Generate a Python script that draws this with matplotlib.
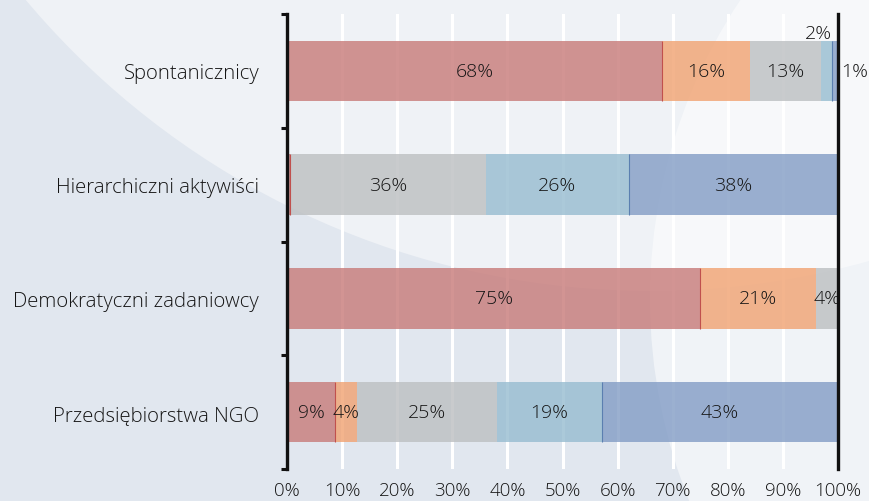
import numpy as np
import matplotlib
matplotlib.use("Agg")
import matplotlib.pyplot as plt
from matplotlib.patches import Circle

plt.rcParams['font.family'] = ['Open Sans', 'DejaVu Sans']

# dane: udział typów w każdej grupie (%)
groups = ["Spontanicznicy", "Hierarchiczni aktywiści",
          "Demokratyczni zadaniowcy", "Przedsiębiorstwa NGO"]
seg_red = [68.0, 0.5, 75.0, 8.7]
seg_orange = [16.0, 0.0, 21.0, 4.0]
seg_gray = [13.0, 35.6, 4.0, 25.4]
seg_lblue = [2.0, 25.9, 0.0, 19.1]
seg_dblue = [1.0, 38.0, 0.0, 42.8]
xticks = [0, 10, 20, 30, 40, 50, 60, 70, 80, 90, 100]

series = [seg_red, seg_orange, seg_gray, seg_lblue, seg_dblue]
colors = ['#c77a78', '#f1a271', '#bcbfc1', '#96bcd0', '#829cc5']
txt = '#151515'
fw = 'light'
fs_val = 14

W, H = 870, 502
fig = plt.figure(figsize=(W / 100, H / 100), dpi=100, facecolor='#e1e7ef')

# tło: dwa duże koła
def px_circle(cx, cy, r, **kw):
    c = Circle((cx / 100, (H - cy) / 100), r / 100,
               transform=fig.dpi_scale_trans, zorder=-10, **kw)
    fig.add_artist(c)

px_circle(650, -523, 815, facecolor='#eff2f6', edgecolor='none')
px_circle(1190, 300, 540, facecolor='white', alpha=0.5, edgecolor='none')

ax = fig.add_axes([287 / W, 1 - 470 / H, (838 - 287) / W, (470 - 15) / H])
ax.set_facecolor('none')

y = np.arange(len(groups))
bar_h = 0.53
left = np.zeros(len(groups))
for vals, col in zip(series, colors):
    vals = np.array(vals)
    ax.barh(y, vals, left=left, height=bar_h, color=col, alpha=0.8,
            edgecolor='none', zorder=2)
    left += vals

# cienkie krawędzie między segmentami
red_end = np.array(seg_red)
ax.vlines(red_end, y - bar_h / 2, y + bar_h / 2, color='#c0504d', lw=0.8, zorder=3)
db_start = 100 - np.array(seg_dblue)
mask = np.array(seg_dblue) > 0
ax.vlines(db_start[mask], y[mask] - bar_h / 2, y[mask] + bar_h / 2,
          color='#5b7fb0', lw=0.8, zorder=3)

# etykiety wartości
left = np.zeros(len(groups))
for k, vals in enumerate(series):
    for i, v in enumerate(vals):
        if v >= 3:
            ax.text(left[i] + v / 2, y[i], f"{v:.0f}%", ha='center', va='center',
                    fontsize=fs_val, color=txt, fontweight=fw, zorder=4)
        elif v >= 1.0:
            if k == 3:
                ax.text(left[i] + v, y[i] - bar_h / 2 + 0.01, f"{v:.0f}%",
                        ha='right', va='bottom', fontsize=fs_val, color=txt,
                        fontweight=fw, zorder=4, clip_on=False)
            else:
                ax.text(left[i] + v + 0.6, y[i], f"{v:.0f}%", ha='left',
                        va='center', fontsize=fs_val, color=txt,
                        fontweight=fw, zorder=4, clip_on=False)
    left += np.array(vals)

ax.set_xlim(0, 100)
ax.set_ylim(len(groups) - 0.5, -0.5)
ax.set_xticks(xticks)
ax.set_xticklabels([f"{t}%" for t in xticks])
ax.set_yticks(y)
ax.set_yticklabels(groups)
ax.set_yticks(np.arange(len(groups) + 1) - 0.5, minor=True)

ax.grid(axis='x', color='white', lw=2.2, zorder=1)
ax.set_axisbelow(True)

ax.tick_params(axis='x', length=0, pad=9, labelsize=13.5, labelcolor=txt)
ax.tick_params(axis='y', which='major', length=0, pad=20, labelsize=14.7,
               labelcolor=txt)
ax.tick_params(axis='y', which='minor', direction='out', length=4, width=2.2,
               color='#111111')
for lab in ax.get_xticklabels() + ax.get_yticklabels():
    lab.set_fontweight(fw)

for s in ['top', 'bottom']:
    ax.spines[s].set_visible(False)
for s in ['left', 'right']:
    ax.spines[s].set_linewidth(2.4)
    ax.spines[s].set_color('#111111')
    ax.spines[s].set_zorder(5)

fig.savefig('out.png', dpi=100, facecolor=fig.get_facecolor())
